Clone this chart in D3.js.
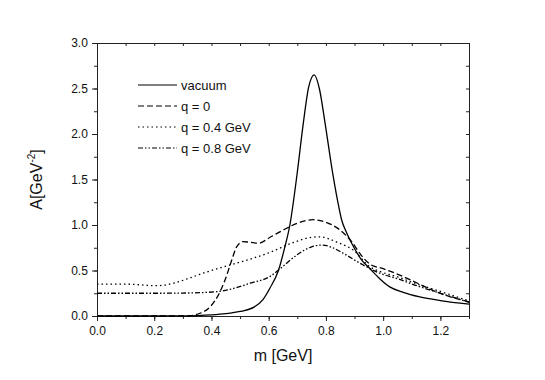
<!DOCTYPE html>
<html>
<head>
<meta charset="utf-8">
<script src="https://cdn.jsdelivr.net/npm/d3@7"></script>
<style>
  body { margin: 0; background: #fff; }
  text { font-family: "Liberation Sans", Arial, sans-serif; fill: #111; }
</style>
</head>
<body>
<div id="chart"></div>
<script>
// values, m in GeV
const vacuumM = [0, 0.2, 0.3, 0.35, 0.4, 0.45, 0.5, 0.55, 0.58, 0.605, 0.634, 0.655, 0.674, 0.70, 0.721, 0.74, 0.759, 0.777, 0.797, 0.822, 0.84, 0.855, 0.87, 0.89, 0.925, 0.954, 0.988, 1.023, 1.07, 1.128, 1.2, 1.3];
const vacuumA = [0, 0, 0.002, 0.005, 0.012, 0.025, 0.05, 0.1, 0.18, 0.31, 0.5, 0.74, 1.0, 1.58, 2.12, 2.52, 2.65, 2.5, 2.12, 1.6, 1.28, 1.055, 0.93, 0.8, 0.615, 0.52, 0.41, 0.32, 0.26, 0.21, 0.17, 0.13];

const q0M = [0, 0.2, 0.3, 0.325, 0.36, 0.395, 0.424, 0.448, 0.471, 0.488, 0.51, 0.535, 0.565, 0.605, 0.651, 0.7, 0.756, 0.8, 0.843, 0.89, 0.925, 0.954, 1.0, 1.058, 1.12, 1.19, 1.3];
const q0A = [0, 0, 0, 0.003, 0.03, 0.1, 0.23, 0.4, 0.615, 0.76, 0.818, 0.81, 0.8, 0.865, 0.945, 1.02, 1.058, 1.03, 0.96, 0.816, 0.66, 0.57, 0.52, 0.45, 0.36, 0.26, 0.155];

const q04M = [0, 0.1, 0.21, 0.267, 0.326, 0.38, 0.442, 0.52, 0.605, 0.68, 0.75, 0.779, 0.843, 0.895, 0.954, 0.988, 1.05, 1.12, 1.2, 1.3];
const q04A = [0.35, 0.35, 0.333, 0.36, 0.42, 0.48, 0.54, 0.61, 0.7, 0.8, 0.865, 0.87, 0.805, 0.725, 0.54, 0.49, 0.43, 0.35, 0.27, 0.165];

const q08M = [0, 0.2, 0.3, 0.419, 0.48, 0.535, 0.605, 0.64, 0.698, 0.75, 0.785, 0.82, 0.86, 0.93, 0.988, 1.05, 1.12, 1.2, 1.3];
const q08A = [0.25, 0.25, 0.252, 0.267, 0.305, 0.36, 0.435, 0.52, 0.67, 0.76, 0.78, 0.755, 0.69, 0.56, 0.47, 0.41, 0.33, 0.25, 0.15];

const seriesNames = ['vacuum', 'q = 0', 'q = 0.4 GeV', 'q = 0.8 GeV'];
const seriesDash = [null, '6,3', '1.5,3', '5,2,1.5,2,1.5,2'];

const xTicks = [0, 0.2, 0.4, 0.6, 0.8, 1.0, 1.2];
const yTicks = [0, 0.5, 1.0, 1.5, 2.0, 2.5, 3.0];

const width = 545;
const height = 380;
const margin = { left: 97, right: 76, top: 43, bottom: 64 };

const svg = d3.select('#chart')
  .append('svg')
  .attr('width', width)
  .attr('height', height);

const x = d3.scaleLinear().domain([0, 1.3]).range([margin.left, width - margin.right]);
const y = d3.scaleLinear().domain([0, 3]).range([height - margin.bottom, margin.top]);

// minor ticks
const xMinor = d3.range(0, 1.31, 0.1);
const yMinor = d3.range(0, 3.01, 0.25);

const fmt = d3.format('.1f');

// bottom axis, ticks outward
svg.append('g')
  .attr('transform', `translate(0,${y(0)})`)
  .call(d3.axisBottom(x).tickValues(xMinor).tickSize(3).tickFormat(''))
  .call((g) => g.select('.domain').remove());
svg.append('g')
  .attr('transform', `translate(0,${y(0)})`)
  .call(d3.axisBottom(x).tickValues(xTicks).tickSize(5).tickSizeOuter(0).tickFormat(fmt))
  .call((g) => g.selectAll('text').attr('font-size', 12).attr('dy', '0.95em'));

// left axis
svg.append('g')
  .attr('transform', `translate(${x(0)},0)`)
  .call(d3.axisLeft(y).tickValues(yMinor).tickSize(3).tickFormat(''))
  .call((g) => g.select('.domain').remove());
svg.append('g')
  .attr('transform', `translate(${x(0)},0)`)
  .call(d3.axisLeft(y).tickValues(yTicks).tickSize(5).tickSizeOuter(0).tickFormat(fmt))
  .call((g) => g.selectAll('text').attr('font-size', 12).attr('dx', '-0.1em'));

// top and right frame with small inward ticks
svg.append('g')
  .attr('transform', `translate(0,${y(3)})`)
  .call(d3.axisBottom(x).tickValues(xMinor).tickSize(3).tickSizeOuter(0).tickFormat(''));
svg.append('g')
  .attr('transform', `translate(${x(1.3)},0)`)
  .call(d3.axisLeft(y).tickValues(yMinor).tickSize(3).tickSizeOuter(0).tickFormat(''));

svg.selectAll('.domain, .tick line').attr('stroke', '#222');

// curves
const seriesData = [
  d3.zip(vacuumM, vacuumA),
  d3.zip(q0M, q0A),
  d3.zip(q04M, q04A),
  d3.zip(q08M, q08A),
];

const line = d3.line()
  .x((d) => x(d[0]))
  .y((d) => y(d[1]))
  .curve(d3.curveMonotoneX);

seriesData.forEach((data, i) => {
  svg.append('path')
    .datum(data)
    .attr('fill', 'none')
    .attr('stroke', '#000')
    .attr('stroke-width', 1.3)
    .attr('stroke-dasharray', seriesDash[i])
    .attr('d', line);
});

// legend
const legend = svg.append('g');
seriesNames.forEach((name, i) => {
  const ly = 85 + i * 21;
  legend.append('line')
    .attr('x1', 138).attr('x2', 177)
    .attr('y1', ly).attr('y2', ly)
    .attr('stroke', '#000')
    .attr('stroke-width', 1.2)
    .attr('stroke-dasharray', seriesDash[i]);
  legend.append('text')
    .attr('x', 181)
    .attr('y', ly)
    .attr('dy', '0.35em')
    .attr('font-size', 13)
    .text(name);
});

// axis titles
svg.append('text')
  .attr('x', (x(0) + x(1.3)) / 2)
  .attr('y', 361)
  .attr('text-anchor', 'middle')
  .attr('font-size', 16)
  .text('m [GeV]');

const yTitle = svg.append('text')
  .attr('transform', `translate(42,${(y(0) + y(3)) / 2}) rotate(-90)`)
  .attr('text-anchor', 'middle')
  .attr('font-size', 16);
yTitle.append('tspan').text('A[GeV');
yTitle.append('tspan').attr('font-size', 10).attr('dy', -7).text('-2');
yTitle.append('tspan').attr('dy', 7).text(']');
</script>
</body>
</html>
